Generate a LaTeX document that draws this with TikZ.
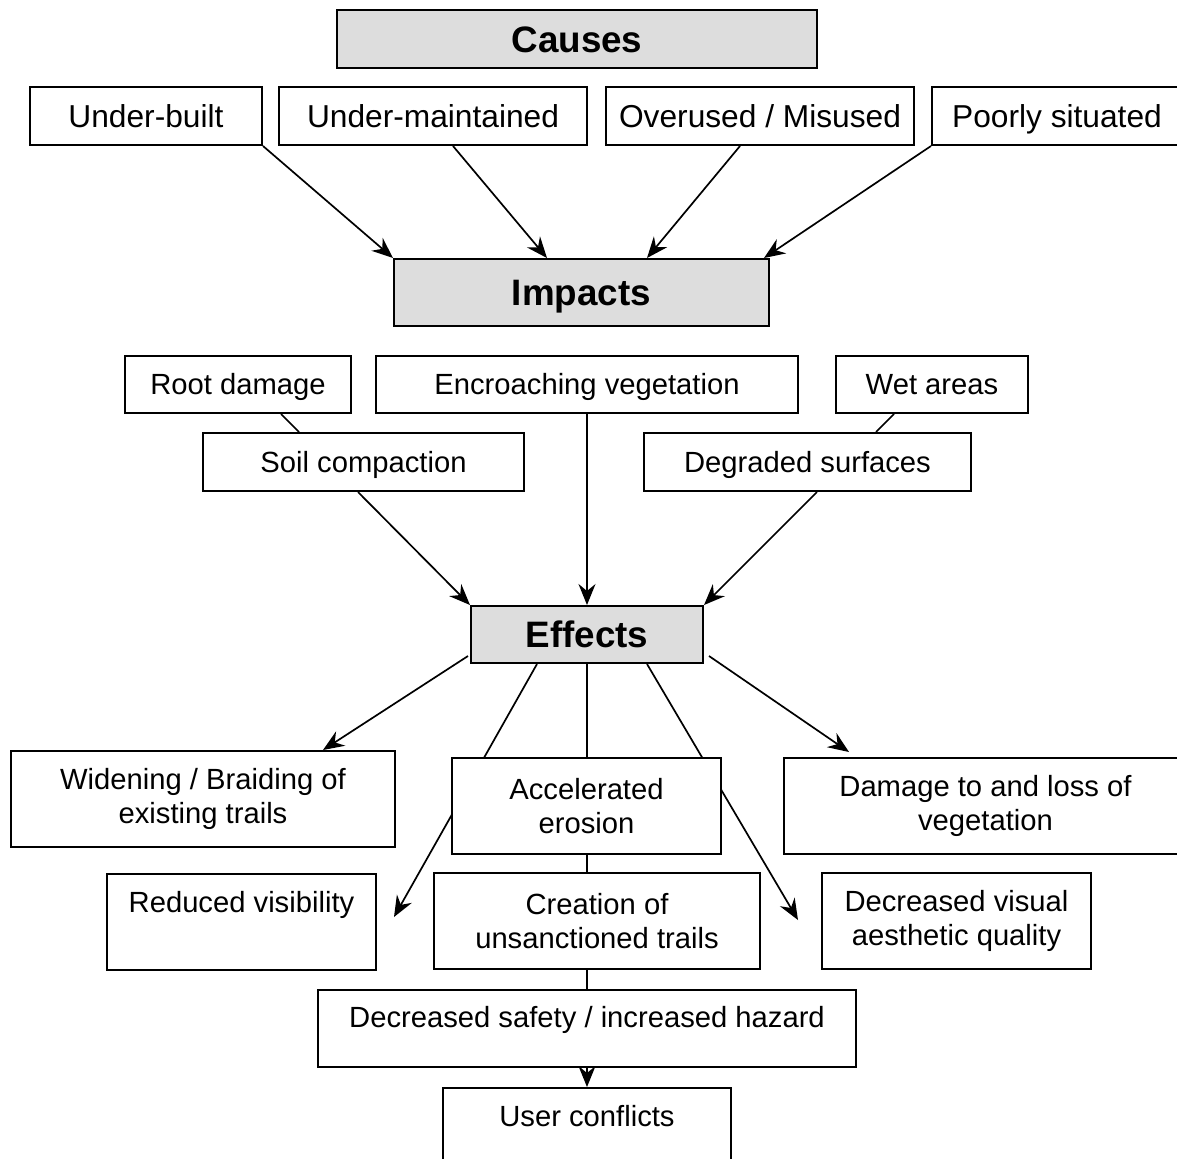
\documentclass[tikz,border=0pt]{standalone}
\usepackage{fontspec}
\setmainfont{Liberation Sans}
\usetikzlibrary{arrows.meta,calc}
\pgfdeclarelayer{background}
\pgfsetlayers{background,main}
\definecolor{hdrgray}{RGB}{221,221,221}
\begin{document}
\begin{tikzpicture}[x=0.5pt,y=-0.5pt,
 box/.style={draw, line width=1pt, fill=white, inner sep=0pt, align=center},
 hdr/.style={box, fill=hdrgray, font=\fontsize{18.4}{22}\selectfont\bfseries, text height=13.2pt, text depth=0pt},
 toprow/.style={box, font=\fontsize{15.85}{19}\selectfont, minimum height=29pt, text height=11.35pt, text depth=0pt},
 mid/.style={box, font=\fontsize{14.6}{17}\selectfont},
 one/.style={mid, text height=10.45pt, text depth=0pt},
 conn/.style={line width=0.85pt},
 arr/.style={conn, -{Stealth[length=10.5pt,width=8.5pt,inset=3.5pt]}}]
\useasboundingbox (0,0) rectangle (1177,1158);

\node[hdr, minimum width=240pt, minimum height=29pt] (causes) at (577,39) {Causes};
\node[toprow, minimum width=116pt] (ub) at (146,116) {Under-built};
\node[toprow, minimum width=154pt] (um) at (433,116) {Under-maintained};
\node[toprow, minimum width=154pt] (om) at (760,116) {Overused / Misused};
\node[toprow, minimum width=125pt] (ps) at (1057,116) {Poorly situated};
\node[hdr, minimum width=187.5pt, minimum height=33.5pt] (imp) at (581.5,292.5) {Impacts};

\node[one, minimum width=113pt, minimum height=28.5pt] (rd) at (238,384.5) {Root damage};
\node[one, minimum width=211pt, minimum height=28.5pt] (ev) at (587,384.5) {Encroaching vegetation};
\node[one, minimum width=96pt, minimum height=28.5pt] (wa) at (932,384.5) {Wet areas};
\node[one, minimum width=160.5pt, minimum height=29pt] (sc) at (363.5,462) {Soil compaction};
\node[one, minimum width=163.5pt, minimum height=29pt] (dg) at (807.5,462) {Degraded surfaces};
\node[hdr, minimum width=116pt, minimum height=28.5pt] (eff) at (587,634.5) {Effects};

\node[mid, minimum width=192pt, minimum height=48pt] (wb) at (203,799) {Widening / Braiding of\\existing trails};
\node[mid, minimum width=134.5pt, minimum height=48pt] (ae) at (586.5,806) {Accelerated\\erosion};
\node[mid, minimum width=201.5pt, minimum height=48pt] (dl) at (985.5,806) {Damage to and loss of\\vegetation};
\node[mid, anchor=north, minimum width=134.5pt, text height=19.35pt, text depth=28.65pt] (rv) at (241.5,873) {Reduced visibility};
\node[mid, minimum width=163pt, minimum height=48pt] (ct) at (597,921) {Creation of\\unsanctioned trails};
\node[mid, minimum width=134.5pt, minimum height=48pt] (dv) at (956.5,921) {Decreased visual\\aesthetic quality};
\node[mid, anchor=north, minimum width=269pt, text height=18.85pt, text depth=19.65pt] (ds) at (587,989) {Decreased safety / increased hazard};
\node[mid, anchor=north, minimum width=144pt, text height=19pt, text depth=37.5pt] (uc) at (587,1087) {User conflicts};

\coordinate (rvtip) at (394,917);
\coordinate (dvtip) at (798,920);

\begin{pgfonlayer}{background}
\draw[arr] (ub.south east) -- (imp.north west);
\draw[arr] ($(um.south)+(20,0)$) -- ($(imp.north)+(-34.5,0)$);
\draw[arr] ($(om.south)+(-20,0)$) -- ($(imp.north)+(65.5,0)$);
\draw[arr] (ps.south west) -- ($(imp.north east)+(-6,0)$);
\draw[conn] ($(rd.south)+(43,0)$) -- ($(sc.north)+(-64.5,0)$);
\draw[conn] ($(wa.south)+(-38,0)$) -- ($(dg.north)+(68.5,0)$);
\draw[arr] ($(sc.south)+(-5.5,0)$) -- (eff.north west);
\draw[arr] (ev.south) -- (eff.north);
\draw[arr] ($(dg.south)+(9.5,0)$) -- (eff.north east);
\draw[arr] ($(eff.south west)+(-2,-8)$) -- ($(wb.north)+(120,0)$);
\draw[arr] ($(eff.south east)+(5,-8)$) -- ($(dl.north)+(-136.5,-5)$);
\draw[arr] ($(eff.south)+(-50,0)$) -- (rvtip);
\draw[arr] ($(eff.south)+(60,0)$) -- (dvtip);
\draw[arr] (eff.south) -- (uc.north);
\end{pgfonlayer}
\end{tikzpicture}
\end{document}
